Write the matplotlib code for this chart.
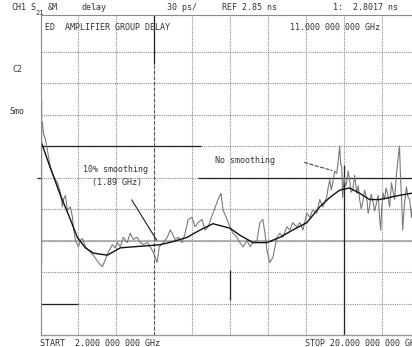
import numpy as np
import matplotlib.pyplot as plt

# raw group delay sweep (GHz, ns)
raw_freq = [2.00, 2.09, 2.14, 2.24, 2.33, 2.47, 2.62, 2.71, 2.81, 2.95,
            3.04, 3.09, 3.18, 3.28, 3.42, 3.52, 3.56, 3.66, 3.80, 3.89,
            3.99, 4.13, 4.27, 4.51, 4.75, 4.94, 5.08, 5.22, 5.41, 5.55,
            5.65, 5.79, 5.93, 6.12, 6.26, 6.41, 6.59, 6.74, 6.88, 7.07,
            7.21, 7.35, 7.45, 7.54, 7.64, 7.83, 8.02, 8.16, 8.25, 8.39,
            8.54, 8.73, 8.87, 9.01, 9.20, 9.34, 9.48, 9.67, 9.82, 9.96,
            10.19, 10.43, 10.57, 10.67, 10.86, 11.00, 11.14, 11.33, 11.47, 11.62,
            11.81, 11.95, 12.09, 12.28, 12.42, 12.56, 12.66, 12.75, 12.89, 13.04,
            13.23, 13.37, 13.51, 13.70, 13.84, 13.98, 14.17, 14.32, 14.46, 14.65,
            14.79, 14.93, 15.12, 15.26, 15.41, 15.59, 15.66, 15.74, 15.81, 15.88,
            15.97, 16.07, 16.14, 16.21, 16.26, 16.31, 16.35, 16.42, 16.49, 16.54,
            16.61, 16.68, 16.75, 16.83, 16.92, 17.02, 17.09, 17.16, 17.23, 17.30,
            17.39, 17.49, 17.56, 17.63, 17.70, 17.77, 17.87, 17.96, 18.04, 18.11,
            18.16, 18.20, 18.27, 18.34, 18.41, 18.48, 18.58, 18.67, 18.75, 18.82,
            18.89, 18.96, 19.05, 19.10, 19.15, 19.20, 19.29, 19.38, 19.45, 19.53,
            19.62, 19.71, 19.81, 19.90, 20.00]
raw_delay = [2.900, 2.903, 2.892, 2.886, 2.876, 2.860, 2.851, 2.848, 2.845, 2.835,
             2.822, 2.829, 2.833, 2.819, 2.822, 2.812, 2.803, 2.790, 2.784, 2.790,
             2.792, 2.784, 2.781, 2.776, 2.769, 2.765, 2.772, 2.779, 2.786, 2.783,
             2.788, 2.784, 2.793, 2.788, 2.797, 2.791, 2.793, 2.788, 2.786, 2.788,
             2.784, 2.779, 2.774, 2.769, 2.784, 2.788, 2.793, 2.800, 2.797, 2.791,
             2.793, 2.788, 2.797, 2.810, 2.812, 2.803, 2.807, 2.810, 2.800, 2.803,
             2.816, 2.829, 2.835, 2.819, 2.810, 2.803, 2.797, 2.793, 2.788, 2.784,
             2.790, 2.784, 2.788, 2.790, 2.807, 2.810, 2.797, 2.781, 2.769, 2.774,
             2.793, 2.797, 2.793, 2.803, 2.800, 2.807, 2.803, 2.807, 2.800, 2.816,
             2.812, 2.819, 2.816, 2.829, 2.822, 2.831, 2.840, 2.848, 2.838, 2.845,
             2.856, 2.854, 2.866, 2.880, 2.862, 2.860, 2.831, 2.850, 2.842, 2.845,
             2.856, 2.848, 2.836, 2.838, 2.852, 2.835, 2.842, 2.829, 2.820, 2.826,
             2.838, 2.831, 2.816, 2.822, 2.834, 2.829, 2.818, 2.826, 2.833, 2.810,
             2.800, 2.819, 2.835, 2.829, 2.840, 2.835, 2.822, 2.845, 2.836, 2.829,
             2.850, 2.864, 2.880, 2.850, 2.829, 2.800, 2.826, 2.841, 2.832, 2.829,
             2.812, 2.834, 2.829, 2.838, 2.824]

# 10% smoothed trace
smooth_freq = [2.05, 2.47, 2.95, 3.42, 3.75, 4.13, 4.51, 5.17, 5.79, 6.41, 7.07, 7.68, 8.30,
               8.96, 9.58, 10.19, 11.00, 11.47, 12.09, 12.75, 13.37, 13.98, 14.65, 15.26,
               15.74, 16.21, 16.68, 17.16, 17.63, 18.11, 18.58, 19.05, 19.62, 20.00]
smooth_delay = [2.883, 2.859, 2.833, 2.810, 2.793, 2.783, 2.778, 2.776, 2.783, 2.784, 2.785,
                2.786, 2.789, 2.793, 2.800, 2.806, 2.8017, 2.795, 2.788, 2.788, 2.793, 2.800,
                2.807, 2.822, 2.831, 2.838, 2.840, 2.835, 2.829, 2.829, 2.831, 2.833, 2.835,
                2.836]

start_ghz, stop_ghz = 2.0, 20.0
ref_ns, per_div = 2.85, 0.030

W, H = 412, 347
fig = plt.figure(figsize=(W / 100, H / 100), dpi=100)
fig.patch.set_facecolor('white')

# plot area runs off the right edge of the page
top_px, bot_px, left_px, right_px = 15, 335, 40.5, 419.5
ax = fig.add_axes([left_px / W, 1 - bot_px / H, (right_px - left_px) / W, (bot_px - top_px) / H])

y_lo = ref_ns - 5 * per_div
y_hi = ref_ns + 5 * per_div + per_div * 5 / 31.5
ax.set_xlim(start_ghz, stop_ghz)
ax.set_ylim(y_lo, y_hi)

gcol = '#8a8a8a'
xdiv = np.linspace(start_ghz, stop_ghz, 11)
ydiv = ref_ns + per_div * np.arange(-4, 5)
for xv in xdiv[1:-1]:
    ax.axvline(xv, color=gcol, lw=0.8, ls=(0, (1, 1)))
for yv in ydiv:
    ax.axhline(yv, color=gcol, lw=0.8, ls=(0, (1, 1)))

for s in ['top', 'left']:
    ax.spines[s].set_color(gcol)
    ax.spines[s].set_linestyle((0, (1, 1)))
    ax.spines[s].set_linewidth(0.8)
ax.spines['bottom'].set_color('#999999')
ax.spines['bottom'].set_linewidth(1.0)
ax.spines['right'].set_visible(False)
ax.set_xticks([])
ax.set_yticks([])

# reference / marker lines drawn solid over the graticule
ax.hlines(ref_ns + per_div, 2.0, 9.6, color='#222222', lw=0.9)
ax.hlines(ref_ns, 9.5, 20.0, color='#222222', lw=0.9)
ax.hlines(ref_ns - 2 * per_div, 2.0, 20.0, color='#a0a0a0', lw=1.1)
ax.hlines(ref_ns - 4 * per_div, 2.0, 3.8, color='#222222', lw=0.9)
ax.hlines(ref_ns, 1.85, 2.0, color='#222222', lw=0.9, clip_on=False)
ax.vlines(2.02, 2.767, 2.924, color='#222222', lw=0.9)
ax.vlines(xdiv[3], 2.958, y_hi, color='#222222', lw=0.9)
ax.vlines(xdiv[3], y_lo, 2.958, color='#555555', lw=0.8, ls=(0, (3, 2)))
ax.vlines(xdiv[5], 2.733, 2.762, color='#222222', lw=0.9)
ax.vlines(xdiv[8], y_lo, 2.862, color='#222222', lw=0.9)

# traces
ax.plot(raw_freq, raw_delay, color='#7a7a7a', lw=0.8)
ax.plot(smooth_freq, smooth_delay, color='#111111', lw=1.0)

ax.annotate('', xy=(7.59, 2.788), xytext=(6.26, 2.831),
            arrowprops=dict(arrowstyle='-', color='#222222', lw=0.8))
ax.annotate('', xy=(15.97, 2.856), xytext=(14.41, 2.865),
            arrowprops=dict(arrowstyle='-', color='#444444', lw=0.8, ls=(0, (3, 2))))

mono = dict(family='DejaVu Sans Mono', fontsize=6, color='#333333', va='center', ha='left')


def put(x, y, s, **kw):
    opts = dict(mono)
    opts.update(kw)
    fig.text(x / W, 1 - y / H, s, **opts)


put(11, 8, 'CH1')
put(30, 8, 'S')
put(35, 13, '21', fontsize=5)
put(48, 8, '&M')
put(82, 8, 'delay')
put(167, 8, '30 ps/')
put(222, 8, 'REF 2.85 ns')
put(333, 8, '1:  2.8017 ns')
put(45, 28, 'ED  AMPLIFIER GROUP DELAY')
put(290, 28, '11.000 000 000 GHz')
put(12, 70, 'C2')
put(9, 112, 'Smo')
put(83, 170, '10% smoothing')
put(92, 182, '(1.89 GHz)')
put(215, 161, 'No smoothing')
put(40, 343, 'START  2.000 000 000 GHz')
put(305, 343, 'STOP 20.000 000 000 GHz')

fig.savefig('out.png', dpi=100)
